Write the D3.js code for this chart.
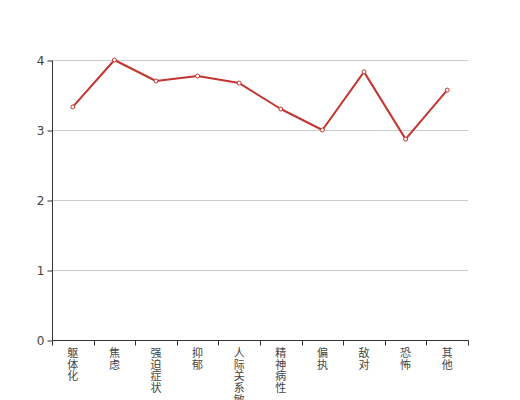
<!DOCTYPE html>
<html><head><meta charset="utf-8">
<script src="https://cdn.jsdelivr.net/npm/d3@7/dist/d3.min.js"></script>
<style>body{margin:0;background:#fff}svg{display:block}</style>
</head><body>
<svg id="c" width="520" height="400"></svg>
<script>
const categories = ["躯体化","焦虑","强迫症状","抑郁","人际关系敏感","精神病性","偏执","敌对","恐怖","其他"];
const values = [3.33, 4.00, 3.70, 3.77, 3.67, 3.30, 3.00, 3.83, 2.87, 3.57];
const yTicks = [0, 1, 2, 3, 4];

(function () {
const svg = d3.select("#c");
const gLeft = 52, gRight = 468, gTop = 60, gBottom = 340;
const font = "'Noto Sans CJK SC', sans-serif";

const x = d3.scaleBand().domain(categories).range([gLeft, gRight]);
const y = d3.scaleLinear().domain([0, 4]).range([gBottom, gTop]);

// grid
svg.append("g").selectAll("line").data(yTicks.filter(t => t > 0)).join("line")
  .attr("x1", gLeft).attr("x2", gRight)
  .attr("y1", d => Math.round(y(d)) + 0.5).attr("y2", d => Math.round(y(d)) + 0.5)
  .attr("stroke", "#ccc").attr("stroke-width", 1);

// y axis
const yAxis = svg.append("g").attr("transform", `translate(${gLeft + 0.5},0.5)`)
  .call(d3.axisLeft(y).tickValues(yTicks).tickSize(5).tickPadding(3).tickFormat(d3.format("d")));
yAxis.select(".domain").attr("stroke", "#333").attr("d", `M0,${gTop}V${gBottom}`);
yAxis.selectAll(".tick line").attr("stroke", "#333");
yAxis.selectAll(".tick text").attr("fill", "#444").style("font-size", "12px").style("font-family", "'DejaVu Sans', sans-serif");

// x axis
const xg = svg.append("g").attr("transform", `translate(0.5,${gBottom + 0.5})`);
xg.append("line").attr("x1", gLeft).attr("x2", gRight).attr("stroke", "#333");
const boundaries = categories.map(c => x(c)).concat([gRight]);
xg.selectAll("line.tk").data(boundaries).join("line").attr("class", "tk")
  .attr("x1", d => Math.round(d)).attr("x2", d => Math.round(d)).attr("y1", 0).attr("y2", 5).attr("stroke", "#333");

const lh = 11.7;
const lab = svg.append("g");
categories.forEach(c => {
  const cx = x(c) + x.bandwidth() / 2;
  const t = lab.append("text").attr("fill", "#444").style("font-size", "11px").style("font-family", font)
    .attr("text-anchor", "middle");
  Array.from(c).forEach((ch, i) => {
    t.append("tspan").attr("x", cx).attr("y", 357 + i * lh).text(ch);
  });
});

// line
const pts = categories.map((c, i) => [x(c) + x.bandwidth() / 2, y(values[i])]);
svg.append("path").attr("d", d3.line()(pts)).attr("fill", "none")
  .attr("stroke", "#c23531").attr("stroke-width", 2).attr("stroke-linejoin", "round");
svg.append("g").selectAll("circle").data(pts).join("circle")
  .attr("cx", d => d[0]).attr("cy", d => d[1]).attr("r", 2)
  .attr("fill", "#fff").attr("stroke", "#c23531").attr("stroke-width", 1);
})();
</script>
</body></html>
